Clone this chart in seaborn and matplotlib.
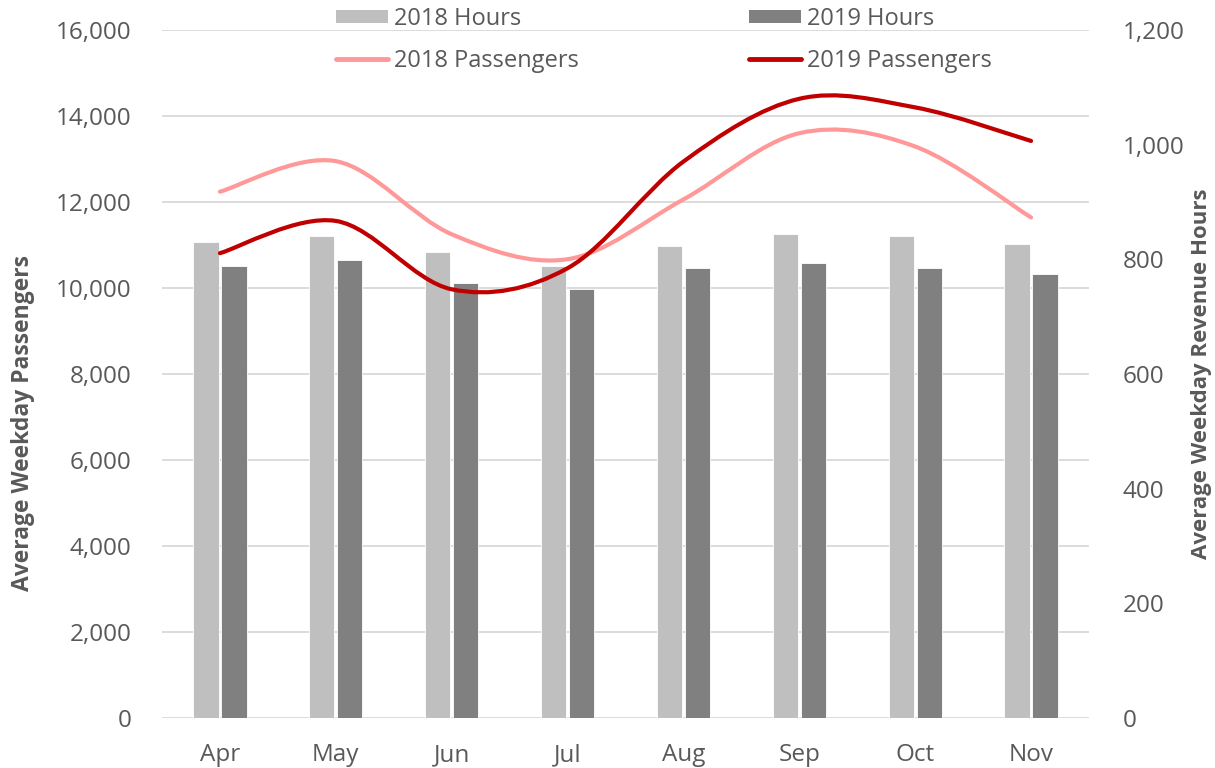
import numpy as np
import pandas as pd
import seaborn as sns
import matplotlib.pyplot as plt
from matplotlib.path import Path
from matplotlib.patches import PathPatch, Patch
from matplotlib.lines import Line2D
from matplotlib.ticker import FuncFormatter, MultipleLocator

# data
months = ["Apr", "May", "Jun", "Jul", "Aug", "Sep", "Oct", "Nov"]
hours_2018 = [830, 840, 812, 788, 823, 844, 841, 827]
hours_2019 = [789, 798, 759, 748, 785, 793, 785, 774]
passengers_2018 = [12240, 12950, 11250, 10670, 12060, 13600, 13290, 11640]
passengers_2019 = [10810, 11560, 9970, 10460, 12940, 14400, 14200, 13420]

GREY = "#595959"
GRID = "#D9D9D9"
C_H18, C_H19 = "#BFBFBF", "#808080"
C_P18, C_P19 = "#FF9999", "#C00000"

sns.set_theme(style="white")
plt.rcParams["font.family"] = ["Open Sans", "DejaVu Sans"]


def smooth_path(values):
    # excel style smoothed line: cubic bezier through each point
    pts = np.column_stack([np.arange(len(values)), values]).astype(float)
    verts = [pts[0]]
    codes = [Path.MOVETO]
    n = len(pts)
    for i in range(n - 1):
        p0 = pts[max(i - 1, 0)]
        p1 = pts[i]
        p2 = pts[i + 1]
        p3 = pts[min(i + 2, n - 1)]
        verts += [p1 + (p2 - p0) / 6, p2 - (p3 - p1) / 6, p2]
        codes += [Path.CURVE4] * 3
    return Path(verts, codes)


fig = plt.figure(figsize=(12.15, 7.68), dpi=100)
ax = fig.add_axes([162 / 1215, 50 / 768, 927 / 1215, 688 / 768])
ax_h = ax.twinx()   # bars, right scale
ax_l = ax.twinx()   # lines, left scale

hours = pd.DataFrame({
    "month": months * 2,
    "hours": hours_2018 + hours_2019,
    "series": ["2018 Hours"] * len(months) + ["2019 Hours"] * len(months),
})
sns.barplot(data=hours, x="month", y="hours", hue="series",
            palette=[C_H18, C_H19], saturation=1, width=0.484, gap=0.1,
            legend=False, ax=ax_h, edgecolor="white", linewidth=0.6)

for vals, col in [(passengers_2018, C_P18), (passengers_2019, C_P19)]:
    ax_l.add_patch(PathPatch(smooth_path(vals), fill=False, edgecolor=col,
                             lw=3, capstyle="round", joinstyle="round",
                             transform=ax_l.transData))

fmt = FuncFormatter(lambda v, _: f"{v:,.0f}")

ax.set_ylim(0, 16000)
ax.yaxis.set_major_locator(MultipleLocator(2000))
ax.yaxis.set_major_formatter(fmt)
ax.grid(axis="y", color=GRID, lw=1.3)
ax.grid(axis="x", visible=False)
ax.set_xlim(-0.5, len(months) - 0.5)
ax.set_xticks(range(len(months)), months)
ax.tick_params(axis="y", length=0, pad=22, labelsize=17.5, labelcolor=GREY)
ax.tick_params(axis="x", length=0, pad=18, labelsize=17.5, labelcolor=GREY)

ax_h.set_ylim(0, 1200)
ax_h.yaxis.set_major_locator(MultipleLocator(200))
ax_h.yaxis.set_major_formatter(fmt)
ax_h.tick_params(axis="y", length=0, pad=24, labelsize=17.5, labelcolor=GREY)
ax_h.set_xlabel("")
ax_h.set_ylabel("")
ax_h.grid(False)

ax_l.set_ylim(0, 16000)
ax_l.set_xlim(-0.5, len(months) - 0.5)
ax_l.axis("off")

for a in (ax, ax_h, ax_l):
    for s in a.spines.values():
        s.set_visible(False)

fig.text(23 / 1215, 1 - 423 / 768, "Average Weekday Passengers", rotation=90,
         ha="center", va="center", fontsize=16.5, fontweight="bold",
         color=GREY)
fig.text(1201 / 1215, 1 - 374 / 768, "Average Weekday Revenue Hours",
         rotation=90, ha="center", va="center", fontsize=16,
         fontweight="bold", color=GREY)

handles = [
    Patch(facecolor=C_H18, edgecolor="none"),
    Line2D([], [], color=C_P18, lw=3.5, solid_capstyle="round"),
    Patch(facecolor=C_H19, edgecolor="none"),
    Line2D([], [], color=C_P19, lw=3.5, solid_capstyle="round"),
]
labels = ["2018 Hours", "2018 Passengers", "2019 Hours", "2019 Passengers"]
leg = fig.legend(handles, labels, ncol=2, loc="center left",
                 bbox_to_anchor=(336 / 1215, 1 - 40 / 768), frameon=False,
                 fontsize=17, labelcolor=GREY, borderpad=0, borderaxespad=0,
                 handlelength=2.2, handleheight=0.45, handletextpad=0.25,
                 columnspacing=7.2, labelspacing=0.75)

fig.savefig("out.png", dpi=100)
